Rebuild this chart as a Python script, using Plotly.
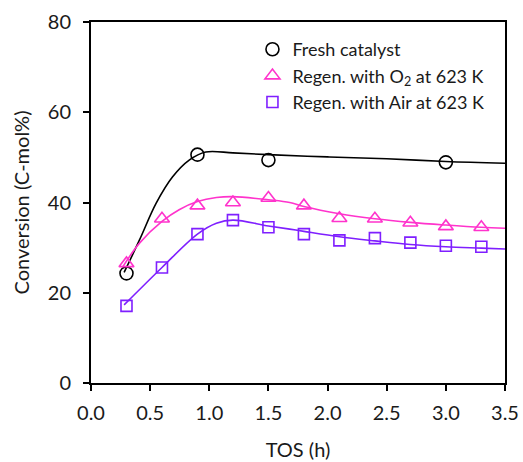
import plotly.graph_objects as go

# Measured points
tos_fresh = [0.3, 0.9, 1.5, 3.0]
conv_fresh = [24.3, 50.6, 49.4, 48.9]

tos_regen = [0.3, 0.6, 0.9, 1.2, 1.5, 1.8, 2.1, 2.4, 2.7, 3.0, 3.3]
conv_o2 = [26.5, 36.4, 39.3, 40.0, 41.0, 39.3, 36.5, 36.4, 35.5, 34.7, 34.5]
conv_air = [17.1, 25.6, 33.0, 36.1, 34.5, 33.0, 31.6, 32.1, 31.1, 30.4, 30.2]

# Fitted trend curves
fit_fresh_x = [0.28, 0.41, 0.55, 0.69, 0.83, 0.97, 1.2, 1.5, 2.0, 2.5, 3.0, 3.5]
fit_fresh_y = [24.5, 31.7, 39.8, 45.7, 49.4, 51.2, 51.0, 50.6, 50.1, 49.7, 49.1, 48.7]
fit_o2_x = [0.27, 0.41, 0.6, 0.745, 0.9, 1.06, 1.2, 1.5, 1.68, 1.8, 2.1, 2.4, 2.7, 3.0, 3.3, 3.5]
fit_o2_y = [25.8, 31.0, 35.8, 38.4, 40.2, 41.1, 41.3, 40.6, 40.0, 39.1, 37.5, 36.4, 35.6, 35.0, 34.5, 34.3]
fit_air_x = [0.28, 0.6, 0.9, 1.06, 1.2, 1.5, 1.68, 1.8, 2.1, 2.4, 2.7, 3.0, 3.3, 3.5]
fit_air_y = [17.3, 25.6, 33.0, 35.4, 36.1, 34.8, 34.1, 33.6, 32.4, 31.5, 30.7, 30.2, 29.9, 29.7]

x_ticks = [0.0, 0.5, 1.0, 1.5, 2.0, 2.5, 3.0, 3.5]
y_ticks = [0, 20, 40, 60, 80]

BLACK = "#000000"
PINK = "#FF33CC"
PURPLE = "#7F1FFF"
FONT = "Lato, 'Open Sans', sans-serif"
TXT = "#1a1a1a"

fig = go.Figure()

for fx, fy, col in [(fit_fresh_x, fit_fresh_y, BLACK),
                    (fit_o2_x, fit_o2_y, PINK),
                    (fit_air_x, fit_air_y, PURPLE)]:
    fig.add_trace(go.Scatter(x=fx, y=fy, mode="lines",
                             line=dict(color=col, width=1.6, shape="spline", smoothing=1.0),
                             showlegend=False, hoverinfo="skip"))

fig.add_trace(go.Scatter(x=tos_fresh, y=conv_fresh, mode="markers", name="Fresh catalyst",
                         marker=dict(symbol="circle-open", size=13, color=BLACK,
                                     line=dict(width=1.6, color=BLACK))))
fig.add_trace(go.Scatter(x=tos_regen, y=conv_o2, mode="markers",
                         name="Regen. with O<sub>2</sub> at 623 K",
                         marker=dict(symbol="triangle-up-open", size=13, color=PINK,
                                     line=dict(width=1.6, color=PINK))))
fig.add_trace(go.Scatter(x=tos_regen, y=conv_air, mode="markers",
                         name="Regen. with Air at 623 K",
                         marker=dict(symbol="square-open", size=11, color=PURPLE,
                                     line=dict(width=1.6, color=PURPLE))))

axis_common = dict(showline=True, linecolor="black", linewidth=2, mirror=True,
                   ticks="outside", ticklen=6, tickwidth=1.5, tickcolor="black",
                   showgrid=False, zeroline=False, automargin=False,
                   tickfont=dict(family=FONT, size=20, color=TXT))

fig.update_xaxes(range=[0, 3.5], tickvals=x_ticks,
                 ticktext=[f"{v:.1f}" for v in x_ticks], ticklabelstandoff=5,
                 title=dict(text="TOS (h)", font=dict(family=FONT, size=20, color=TXT), standoff=20),
                 **axis_common)
fig.update_yaxes(range=[0, 80], tickvals=y_ticks, ticklabelstandoff=8,
                 title=dict(text="Conversion (C-mol%)", font=dict(family=FONT, size=20, color=TXT), standoff=13),
                 **axis_common)

fig.update_layout(
    width=523, height=462,
    margin=dict(l=91, r=18, t=22, b=79, autoexpand=False),
    plot_bgcolor="white", paper_bgcolor="white",
    font=dict(family=FONT, size=18, color=TXT),
    legend=dict(x=0.39, y=0.975, xanchor="left", yanchor="top",
                bgcolor="rgba(0,0,0,0)", itemwidth=30, tracegroupgap=0,
                font=dict(family=FONT, size=18, color=TXT)),
)

fig.write_html("out.html")
